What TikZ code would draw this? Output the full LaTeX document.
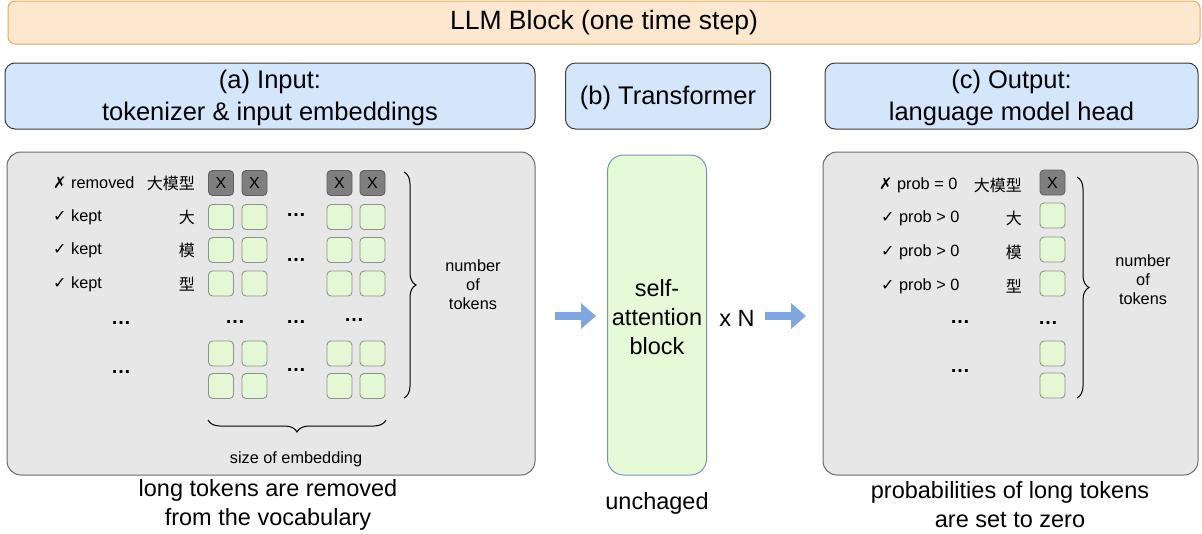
\documentclass[tikz,border=0pt]{standalone}
\usepackage{fontspec}
\setmainfont{Liberation Sans}
\newfontfamily\cjkf{Noto Sans CJK SC}
\newfontfamily\symf{DejaVu Sans}
\usetikzlibrary{arrows.meta,decorations.pathreplacing}
\definecolor{topf}{HTML}{FDE7CF}
\definecolor{topd}{HTML}{E2AE5A}
\definecolor{hdrf}{HTML}{D4E6FB}
\definecolor{hdrd}{HTML}{3A3A3A}
\definecolor{panf}{HTML}{E7E7E7}
\definecolor{pand}{HTML}{6A6A6A}
\definecolor{saf}{HTML}{E6FAD7}
\definecolor{sad}{HTML}{7393BE}
\definecolor{cellf}{HTML}{E5F8D5}
\definecolor{celld}{HTML}{8E948A}
\definecolor{xf}{HTML}{7F7F7F}
\definecolor{xd}{HTML}{5F5F5F}
\definecolor{arr}{HTML}{7EA6E0}
\newcommand\myfs[2]{\fontsize{#1}{#2}\selectfont}
\newcommand\ok{{\symf\bfseries\myfs{16}{18}✓}}
\newcommand\no{{\symf\bfseries\myfs{16}{18}✗}}
\begin{document}
\begin{tikzpicture}[x=1pt,y=-1pt,
  topbar/.style={draw=topd, fill=topf, rounded corners=7pt, line width=1pt, inner sep=0pt},
  hdr/.style={draw=hdrd, fill=hdrf, rounded corners=10pt, line width=1pt, inner sep=0pt},
  panel/.style={draw=pand, fill=panf, rounded corners=14pt, line width=1pt, inner sep=0pt},
  sab/.style={draw=sad, fill=saf, rounded corners=16pt, line width=1pt, inner sep=0pt},
  cell/.style={draw=celld, fill=cellf, rounded corners=4pt, minimum size=25pt, inner sep=0pt, line width=0.9pt},
  xcell/.style={cell, draw=xd, fill=xf, font=\myfs{16}{18}},
  lbl/.style={inner sep=0pt, font=\myfs{16.3}{19}, anchor=west},
  small/.style={inner sep=0pt, align=center, font=\myfs{16.3}{19}},
  cjk/.style={inner sep=0pt, font=\cjkf\myfs{16}{18}, anchor=east},
  dots/.style={inner sep=0pt, font=\bfseries\myfs{20}{20}},
  big/.style={inner sep=0pt, align=center, font=\myfs{23.5}{29}},
  head/.style={inner sep=0pt, align=center, font=\myfs{25.5}{32}},
  flow/.style={draw=arr, line width=7.5pt, -{Triangle[length=15pt,width=25pt]}},
  brc/.style={draw=black, line width=1pt, decorate, decoration={brace, amplitude=12pt}}
]
\useasboundingbox (0,0) rectangle (1202,533);

% top bar
\node[topbar, minimum width=1192pt, minimum height=43pt] (top) at (604,22.5) {};
\node[inner sep=0pt, font=\myfs{26.5}{30}] (toptxt) at (604,22.5) {LLM Block (one time step)};

% headers
\node[hdr, minimum width=530pt, minimum height=66pt] (ha) at (270,96) {};
\node[head] (hat) at (270,97.5) {(a) Input:\\tokenizer \& input embeddings};
\node[hdr, minimum width=205pt, minimum height=66pt] (hb) at (668,96) {};
\node[head] (hbt) at (668,98) {(b) Transformer};
\node[hdr, minimum width=373pt, minimum height=66pt] (hc) at (1011.5,96) {};
\node[head] (hct) at (1011.5,97.5) {(c) Output:\\language model head};

% panels
\node[panel, minimum width=528pt, minimum height=323pt] (pa) at (271,313.5) {};
\node[panel, minimum width=375pt, minimum height=323pt] (pc) at (1010.5,313.5) {};
\node[sab, minimum width=99pt, minimum height=320pt] (sa) at (657,315) {};
\node[big] (sat) at (657,317) {self-\\attention\\block};

% left panel: labels
\node[lbl] (la1) at (53,183) {\no\ removed};
\node[lbl] (la2) at (53,217) {\ok\ kept};
\node[lbl] (la3) at (53,250) {\ok\ kept};
\node[lbl] (la4) at (53,284) {\ok\ kept};
\node[cjk] (ka1) at (195,183) {大模型};
\node[cjk] (ka2) at (195,217) {大};
\node[cjk] (ka3) at (195,250) {模};
\node[cjk] (ka4) at (195,284) {型};

% left panel: cells
\foreach \c/\x in {1/221,2/254.5,3/339.5,4/372.5}{
  \node[xcell] (a1\c) at (\x,183) {X};
  \foreach \r/\y in {2/217,3/250,4/283.5,5/353.5,6/386}{
    \node[cell] (a\r\c) at (\x,\y) {};
  }
}
\node[dots] (d1) at (296,215) {…};
\node[dots] (d2) at (296,260) {…};
\node[dots] (d3) at (121,323) {…};
\node[dots] (d4) at (235,322) {…};
\node[dots] (d5) at (296,322) {…};
\node[dots] (d6) at (354,320) {…};
\node[dots] (d7) at (121,372) {…};
\node[dots] (d8) at (296,370) {…};

% left braces
\coordinate (bl1) at (404,172);
\coordinate (bl2) at (404,398);
\draw[brc] (bl1) -- (bl2);
\node[small] (nt1) at (473,285) {number\\of\\tokens};
\coordinate (bb1) at (386,420);
\coordinate (bb2) at (208,420);
\draw[brc] (bb1) -- (bb2);
\node[small] (se) at (296,459) {size of embedding};

% right panel
\node[lbl] (lc1) at (879,185) {\no\ prob = 0};
\node[lbl] (lc2) at (881,218) {\ok\ prob > 0};
\node[lbl] (lc3) at (881,252) {\ok\ prob > 0};
\node[lbl] (lc4) at (881,286) {\ok\ prob > 0};
\node[cjk] (kc1) at (1022,185) {大模型};
\node[cjk] (kc2) at (1022,218) {大};
\node[cjk] (kc3) at (1022,252) {模};
\node[cjk] (kc4) at (1022,286) {型};
\node[xcell] (c1) at (1052.5,182.5) {X};
\foreach \r/\y in {2/215.5,3/249.5,4/283.5,5/353.5,6/385.5}{
  \node[cell] (c\r) at (1052.5,\y) {};
}
\node[dots] (e1) at (960,322) {…};
\node[dots] (e2) at (1048,323) {…};
\node[dots] (e3) at (960,371) {…};
\coordinate (br1) at (1077,177);
\coordinate (br2) at (1077,398);
\draw[brc] (br1) -- (br2);
\node[small] (nt2) at (1143,280) {number\\of\\tokens};

% arrows
\coordinate (f1s) at (555,316);
\coordinate (f1e) at (596,316);
\coordinate (f2s) at (765,316);
\coordinate (f2e) at (806,316);
\draw[flow] (f1s) -- (f1e);
\draw[flow] (f2s) -- (f2e);
\node[big] (xn) at (737,318) {x N};

% bottom captions
\node[big] (cap1) at (268,504.5) {long tokens are removed\\from the vocabulary};
\node[big] (cap2) at (657,503) {unchaged};
\node[big] (cap3) at (1010,504.5) {probabilities of long tokens\\are set to zero};
\end{tikzpicture}
\end{document}
